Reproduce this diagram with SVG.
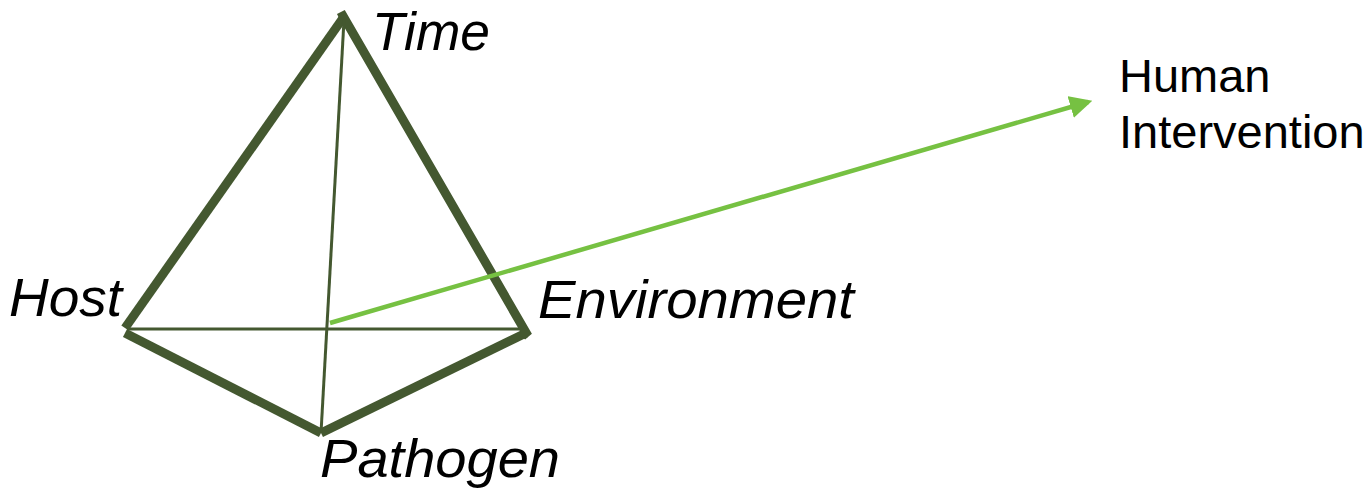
<svg xmlns="http://www.w3.org/2000/svg" width="1370" height="494" viewBox="0 0 1370 494">
<style>
.thick{stroke:#445830;stroke-width:9;fill:none;stroke-linecap:butt}
.thin{stroke:#445830;stroke-width:3;fill:none}
.lbl{font-family:"Liberation Sans",Arial,sans-serif;font-size:53px;font-style:italic;fill:#000}
.hum{font-family:"Liberation Sans",Arial,sans-serif;font-size:47px;fill:#000}
</style>
<defs>
<marker id="ah" viewBox="0 0 10 10" refX="8" refY="5" markerWidth="5" markerHeight="5" orient="auto" markerUnits="strokeWidth">
<path d="M0,0 L10,5 L0,10 z" fill="#76c142"/>
</marker>
</defs>
<rect width="1370" height="494" fill="#fff"/>
<g id="edges">
<line class="thick" x1="343" y1="18" x2="125" y2="328"/>
<line class="thick" x1="125" y1="333" x2="321" y2="433"/>
<line class="thick" x1="321" y1="433" x2="526" y2="333"/>
<polyline class="thick" points="339,18 343,16 528,336 522,331" stroke-linejoin="miter"/>
<line class="thin" x1="127" y1="329" x2="523" y2="329"/>
<line class="thin" x1="344" y1="20" x2="321" y2="433"/>
<line x1="330" y1="323" x2="1088" y2="102" stroke="#76c142" stroke-width="4.5" marker-end="url(#ah)"/>
</g>
<g id="time"><text class="lbl" x="372" y="50" textLength="118" lengthAdjust="spacingAndGlyphs">Time</text></g>
<g id="host"><text class="lbl" x="9" y="316" textLength="113" lengthAdjust="spacingAndGlyphs">Host</text></g>
<g id="environment"><text class="lbl" x="538" y="318" textLength="316" lengthAdjust="spacingAndGlyphs">Environment</text></g>
<g id="pathogen"><text class="lbl" x="320" y="477" textLength="240" lengthAdjust="spacingAndGlyphs">Pathogen</text></g>
<g id="human"><text class="hum" x="1119" y="92">Human</text><text class="hum" x="1119" y="148">Intervention</text></g>
</svg>
